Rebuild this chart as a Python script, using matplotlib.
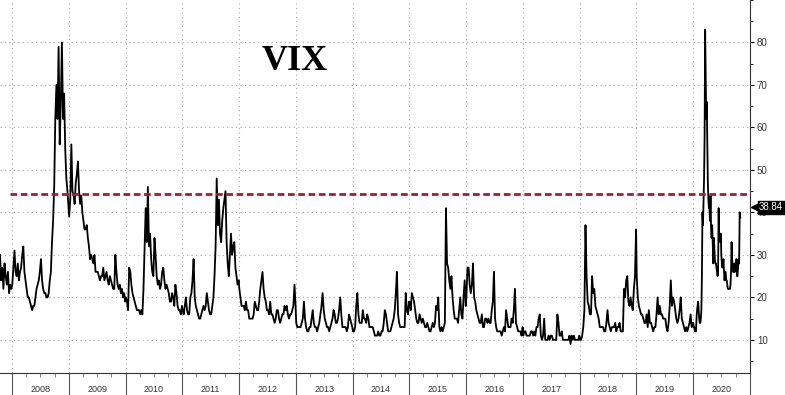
import numpy as np
import pandas as pd
import matplotlib
matplotlib.use("Agg")
import matplotlib.pyplot as plt
import matplotlib.dates as mdates
from matplotlib.ticker import MultipleLocator, NullFormatter

plt.rcParams['font.family'] = ['Liberation Sans', 'DejaVu Sans']

# VIX (roughly weekly, 2020 twice a week)
vix_2007 = [30, 24, 27, 22, 28, 25, 23, 26, 21, 23, 22]
vix_2008 = [23, 27, 31, 26, 25, 28, 24, 26, 27, 30, 32, 26, 24, 22, 20, 20, 19, 18, 17, 18,
            18, 20, 22, 23, 24, 26, 29, 24, 22, 21, 21, 20, 20, 21, 24, 26, 33, 38, 46, 62,
            70, 62, 79, 56, 66, 80, 62, 68, 55, 48, 45, 41]
vix_2009 = [39, 43, 56, 45, 44, 42, 47, 49, 52, 45, 42, 44, 40, 38, 36, 36, 37, 34, 32, 29,
            30, 29, 28, 30, 26, 26, 26, 25, 24, 25, 25, 27, 24, 25, 26, 24, 23, 25, 24, 23,
            22, 22, 30, 26, 23, 22, 23, 21, 22, 20, 21, 19]
vix_2010 = [20, 19, 17, 27, 26, 23, 21, 20, 19, 18, 17, 17, 17, 16, 17, 16, 22, 32, 41, 33,
            46, 32, 35, 29, 26, 25, 34, 30, 25, 23, 24, 22, 23, 26, 27, 24, 22, 23, 22, 21,
            19, 19, 21, 20, 18, 23, 21, 18, 17, 17, 16, 18]
vix_2011 = [17, 16, 18, 20, 17, 16, 16, 20, 21, 24, 29, 20, 18, 17, 16, 15, 15, 16, 17, 18,
            17, 18, 21, 19, 17, 16, 16, 18, 20, 25, 32, 48, 37, 43, 35, 33, 38, 41, 43, 45,
            33, 28, 25, 30, 35, 30, 32, 33, 27, 25, 23, 24]
vix_2012 = [22, 20, 18, 18, 18, 17, 19, 17, 17, 15, 15, 15, 15, 16, 19, 18, 17, 17, 19, 22,
            24, 26, 22, 20, 19, 17, 17, 16, 19, 16, 16, 15, 14, 15, 17, 17, 15, 14, 15, 16,
            16, 18, 17, 18, 16, 15, 16, 16, 17, 18, 23, 18]
vix_2013 = [14, 13, 13, 13, 13, 14, 15, 19, 15, 13, 12, 12, 13, 13, 15, 17, 14, 13, 13, 12,
            13, 14, 16, 18, 21, 17, 15, 14, 13, 13, 12, 13, 14, 15, 17, 16, 14, 14, 15, 17,
            20, 16, 13, 13, 13, 13, 12, 13, 16, 15, 14, 13]
vix_2014 = [12, 12, 13, 18, 21, 16, 14, 14, 14, 17, 15, 15, 14, 16, 15, 13, 13, 13, 13, 12,
            11, 11, 11, 12, 11, 11, 12, 12, 14, 17, 16, 14, 12, 12, 12, 13, 14, 15, 17, 21,
            26, 16, 14, 13, 13, 13, 13, 13, 21, 17, 16, 19]
vix_2015 = [19, 17, 21, 20, 19, 17, 15, 14, 14, 16, 15, 14, 15, 14, 13, 13, 14, 13, 12, 12,
            13, 14, 13, 14, 18, 17, 20, 13, 12, 13, 12, 13, 14, 41, 28, 27, 24, 22, 25, 20,
            17, 15, 15, 15, 14, 17, 20, 16, 15, 20, 24, 18]
vix_2016 = [20, 27, 27, 23, 21, 23, 28, 20, 19, 17, 16, 15, 14, 14, 16, 13, 13, 15, 15, 14,
            15, 14, 14, 17, 19, 26, 15, 13, 12, 12, 12, 12, 11, 12, 13, 12, 17, 15, 13, 13,
            13, 15, 14, 17, 22, 14, 13, 12, 12, 12, 11, 13]
vix_2017 = [11, 12, 12, 11, 11, 11, 11, 12, 12, 11, 12, 11, 13, 13, 15, 16, 11, 10, 11, 15,
            10, 10, 10, 11, 10, 11, 11, 10, 10, 10, 10, 16, 14, 11, 11, 12, 10, 10, 10, 10,
            10, 10, 11, 9, 11, 10, 11, 10, 10, 10, 10, 11]
vix_2018 = [10, 10, 11, 13, 17, 37, 25, 19, 18, 16, 16, 25, 21, 22, 18, 17, 16, 15, 13, 13,
            13, 13, 12, 12, 14, 17, 14, 13, 12, 13, 13, 13, 14, 12, 13, 13, 14, 12, 12, 12,
            22, 20, 24, 25, 19, 18, 20, 18, 17, 22, 25, 36]
vix_2019 = [25, 20, 18, 17, 16, 16, 15, 14, 14, 16, 13, 17, 14, 14, 13, 12, 13, 13, 16, 20,
            16, 18, 16, 16, 15, 15, 15, 13, 12, 14, 18, 24, 18, 20, 19, 17, 15, 14, 15, 17,
            20, 15, 14, 13, 12, 13, 12, 13, 14, 16, 13, 14]
vix_2020 = [14, 13, 13, 12, 12, 12, 15, 17, 18, 19,
            17, 15, 14, 14, 15, 17, 25, 40,
            37, 42, 48, 58, 83, 72, 62, 66,
            57, 47, 43, 41, 41, 38, 44, 36,
            34, 37, 33, 28, 34, 32, 29, 28, 28, 27,
            26, 25, 26, 41, 34, 35, 33, 35,
            30, 28, 27, 28, 29, 26, 24, 26, 26, 24,
            24, 23, 22, 22, 22, 22, 22, 23,
            26, 33, 29, 27, 26, 26, 28, 26,
            28, 27, 29, 25, 25, 27, 29, 28, 40, 38.84]

segments = [(vix_2007, '2007-10-16', '2007-12-28')]
for yr, vals in zip(range(2008, 2020), [vix_2008, vix_2009, vix_2010, vix_2011, vix_2012, vix_2013,
                                       vix_2014, vix_2015, vix_2016, vix_2017, vix_2018, vix_2019]):
    segments.append((vals, f'{yr}-01-03', f'{yr}-12-30'))
segments.append((vix_2020, '2020-01-02', '2020-10-30'))

dates = []
values = []
for vals, start, end in segments:
    dates.extend(pd.date_range(start, end, periods=len(vals)))
    values.extend(vals)

years = list(range(2008, 2021))
last_value = 38.84
threshold = 44.3

fig = plt.figure(figsize=(7.85, 3.95), dpi=100)
ax = fig.add_axes([0, 22 / 395, 750 / 785, 373 / 395])

ax.plot(dates, values, color='black', lw=1.3, zorder=2)
ax.axhline(threshold, xmin=10 / 750, xmax=1, color='#a31d30', lw=2.0, dashes=(2.4, 1.3), zorder=3)

ax.set_xlim(pd.Timestamp('2007-10-16'), pd.Timestamp('2021-01-01'))
ax.set_ylim(2.2, 90)

# y axis on the right
ax.yaxis.tick_right()
ax.set_yticks(np.arange(10, 90, 10))
ax.yaxis.set_minor_locator(MultipleLocator(5))
ax.tick_params(axis='y', which='major', length=3, width=0.8, pad=2, labelsize=7, labelcolor='#333333')
ax.tick_params(axis='y', which='minor', length=2, width=0.6)

# x axis: year separators + quarter ticks
ax.xaxis.set_major_locator(mdates.YearLocator())
ax.xaxis.set_minor_locator(mdates.MonthLocator(bymonth=[4, 7, 10]))
ax.xaxis.set_major_formatter(NullFormatter())
ax.tick_params(axis='x', which='major', length=17, width=0.8, color='#555555')
ax.tick_params(axis='x', which='minor', length=3, width=0.6, color='#777777')

for yr in years:
    ax.text(pd.Timestamp(f'{yr}-07-02'), -0.045, str(yr), transform=ax.get_xaxis_transform(),
            ha='center', va='center', fontsize=6.5, color='#333333')

ax.grid(axis='y', which='major', ls=(0, (1, 3)), color='#a8a8a8', lw=0.8)
ax.grid(axis='x', which='major', ls=(0, (1, 3)), color='#a8a8a8', lw=0.8)

for side in ['left', 'top']:
    ax.spines[side].set_visible(False)
ax.spines['right'].set_color('#333333')
ax.spines['bottom'].set_color('#333333')
ax.spines['right'].set_linewidth(0.8)
ax.spines['bottom'].set_linewidth(0.8)

ax.text(0.393, 0.836, 'VIX', transform=ax.transAxes, ha='center', va='center',
        fontsize=26, fontweight='bold', family='Liberation Serif')

# last value tag (sits over the 40 label, as in the original)
ax.plot([1.007], [41.2], marker='<', ms=6, color='black', transform=ax.get_yaxis_transform(),
        clip_on=False, zorder=5)
ax.text(1.012, 41.2, f'{last_value:.2f}', transform=ax.get_yaxis_transform(), ha='left', va='center',
        fontsize=7, color='white', zorder=6,
        bbox=dict(boxstyle='square,pad=0.15', fc='black', ec='black'))

fig.savefig('out.png', dpi=100)
